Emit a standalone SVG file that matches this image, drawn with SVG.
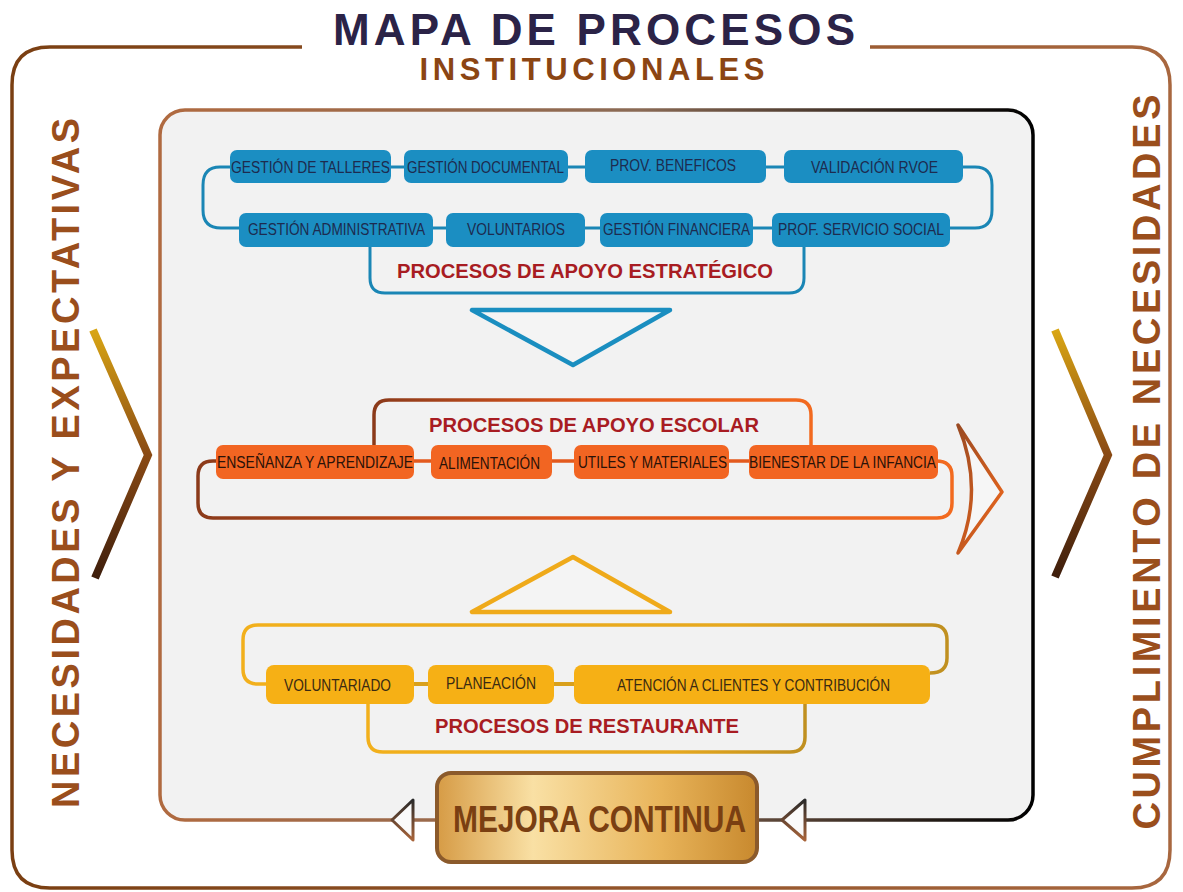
<svg xmlns="http://www.w3.org/2000/svg" width="1183" height="892" viewBox="0 0 1183 892">
<defs>
<linearGradient id="gOuter" x1="0" y1="0" x2="1" y2="0"><stop offset="0" stop-color="#7a3f12"/><stop offset="1" stop-color="#a8673f"/></linearGradient>
<linearGradient id="gInner" x1="0" y1="0" x2="1" y2="0"><stop offset="0" stop-color="#b06a40"/><stop offset="0.55" stop-color="#8a6a55"/><stop offset="1" stop-color="#000"/></linearGradient>
<linearGradient id="gChev" x1="0" y1="0" x2="0" y2="1"><stop offset="0" stop-color="#d9a614"/><stop offset="0.5" stop-color="#8a4a14"/><stop offset="1" stop-color="#3e1e0c"/></linearGradient>
<linearGradient id="gOrange" x1="0" y1="0" x2="1" y2="0"><stop offset="0" stop-color="#8b3a1a"/><stop offset="0.5" stop-color="#e0561c"/><stop offset="1" stop-color="#f26a1f"/></linearGradient>
<linearGradient id="gOChev" x1="0" y1="0" x2="1" y2="1"><stop offset="0" stop-color="#9a4a22"/><stop offset="1" stop-color="#f2691c"/></linearGradient>
<linearGradient id="gYellow" x1="0" y1="0" x2="1" y2="0"><stop offset="0" stop-color="#f2b01c"/><stop offset="0.7" stop-color="#e6a81e"/><stop offset="1" stop-color="#c09020"/></linearGradient>
<linearGradient id="gMejora" x1="0" y1="0" x2="1" y2="0"><stop offset="0" stop-color="#d69b45"/><stop offset="0.3" stop-color="#f9e0a4"/><stop offset="0.7" stop-color="#e8b45a"/><stop offset="1" stop-color="#c8892e"/></linearGradient>
<linearGradient id="gArrow" x1="0" y1="0" x2="0" y2="1"><stop offset="0" stop-color="#2a2a2a"/><stop offset="1" stop-color="#a8643a"/></linearGradient>
<style>
.lbl{font-family:"Liberation Sans",Arial,sans-serif;font-size:16px;}
.sec{font-family:"Liberation Sans",Arial,sans-serif;font-size:21px;font-weight:bold;fill:#a81c22;}
.blue{fill:#1b8ec2;}
.blueT{fill:#1d2b4f;}
.org{fill:#f26522;}
.orgT{fill:#2a1208;}
.yel{fill:#f6b015;}
.yelT{fill:#3a2a12;}
.side{font-family:"Liberation Sans",Arial,sans-serif;font-size:38px;font-weight:bold;fill:#9a4e1c;}
</style>
</defs>
<rect width="1183" height="892" fill="#fff"/>

<g id="frame">
<path d="M302,47 H50 Q12,47 12,85 V850 Q12,888 50,888 H1132 Q1170,888 1170,850 V85 Q1170,47 1132,47 H870" fill="none" stroke="url(#gOuter)" stroke-width="3.5"/>
<rect x="160" y="110" width="873" height="710" rx="25" fill="#f2f2f2" stroke="url(#gInner)" stroke-width="3.5"/>
</g>

<g id="title">
<text x="594" y="45" text-anchor="middle" font-family="'Liberation Sans',Arial,sans-serif" font-size="44" font-weight="bold" fill="#2b2347" textLength="522" lengthAdjust="spacing">MAPA DE PROCESOS</text>
<text x="592" y="80" text-anchor="middle" font-family="'Liberation Sans',Arial,sans-serif" font-size="31" font-weight="bold" fill="#8b4513" textLength="345" lengthAdjust="spacing">INSTITUCIONALES</text>
</g>

<g id="side-left">
<text class="side" transform="translate(79,463) rotate(-90)" text-anchor="middle" textLength="690" lengthAdjust="spacing">NECESIDADES Y EXPECTATIVAS</text>
<path d="M93,330 L148,455 L95,578" fill="none" stroke="url(#gChev)" stroke-width="8"/>
</g>
<g id="side-right">
<text class="side" transform="translate(1160,462) rotate(-90)" text-anchor="middle" textLength="735" lengthAdjust="spacing">CUMPLIMIENTO DE NECESIDADES</text>
<path d="M1055,330 L1108,455 L1055,577" fill="none" stroke="url(#gChev)" stroke-width="8"/>
</g>

<g id="connectors" fill="none" stroke-linejoin="round">
<g stroke="#1a86b5" stroke-width="3">
<path d="M232,167 H220 Q203,167 203,185 V210 Q203,228 221,228 H240"/>
<path d="M962,167 H975 Q992,167 992,185 V210 Q992,228 975,228 H948"/>
<path d="M391,167 H404 M568,167 H585 M766,167 H784 M433,228 H446 M585,228 H600 M753,228 H772"/>
<path d="M370,247 V278 Q370,293 385,293 H789 Q804,293 804,278 V247"/>
</g>
<path d="M472,310 L670,310 L573,365 Z" stroke="#1a8ec0" stroke-width="4.5" fill="#f4f4f4"/>
<path d="M374,445 V415 Q374,400 389,400 H796 Q811,400 811,415 V445" stroke="url(#gOrange)" stroke-width="3.5"/>
<path d="M218,461 H213 Q198,461 198,476 V503 Q198,518 213,518 H937 Q952,518 952,503 V476 Q952,461 936,461" stroke="url(#gOrange)" stroke-width="3.5"/>
<path d="M414,461 H431 M552,461 H574 M729,461 H749" stroke="#e35a1e" stroke-width="3.5"/>
<path d="M958,425 L1002,492 L958,553 Q985,490 958,425 Z" stroke="url(#gOChev)" stroke-width="3.5" fill="#f6f6f6"/>
<path d="M472,612 L670,612 L573,557 Z" stroke="#efaa1a" stroke-width="4.5" fill="#f4f4f4"/>
<path d="M268,684 H258 Q243,684 243,669 V640 Q243,625 258,625 H932 Q947,625 947,640 V658 Q947,673 930,673" stroke="url(#gYellow)" stroke-width="3.5"/>
<path d="M414,684 H428 M554,684 H574" stroke="#d9a01c" stroke-width="4"/>
<path d="M368,704 V737 Q368,752 383,752 H790 Q805,752 805,737 V704" stroke="url(#gYellow)" stroke-width="3.5"/>
<path d="M392,820 L413,800 L413,840 Z" stroke="url(#gArrow)" stroke-width="3" fill="#fafafa"/>
<path d="M782,820 L805,800 L805,840 Z" stroke="url(#gArrow)" stroke-width="3" fill="#fafafa"/>
</g>

<g id="n-talleres"><rect class="blue" x="230" y="150" width="161" height="33" rx="7"/><text class="lbl blueT" x="231" y="173" textLength="159" lengthAdjust="spacingAndGlyphs">GESTIÓN DE TALLERES</text></g>
<g id="n-documental"><rect class="blue" x="404" y="150" width="164" height="33" rx="7"/><text class="lbl blueT" x="407" y="173" textLength="157" lengthAdjust="spacingAndGlyphs">GESTIÓN DOCUMENTAL</text></g>
<g id="n-beneficos"><rect class="blue" x="585" y="150" width="181" height="33" rx="7"/><text class="lbl blueT" x="610" y="171" textLength="126" lengthAdjust="spacingAndGlyphs">PROV. BENEFICOS</text></g>
<g id="n-rvoe"><rect class="blue" x="784" y="150" width="179" height="33" rx="7"/><text class="lbl blueT" x="811" y="173" textLength="127" lengthAdjust="spacingAndGlyphs">VALIDACIÓN RVOE</text></g>
<g id="n-administrativa"><rect class="blue" x="239" y="213" width="194" height="34" rx="7"/><text class="lbl blueT" x="248" y="235" textLength="177" lengthAdjust="spacingAndGlyphs">GESTIÓN ADMINISTRATIVA</text></g>
<g id="n-voluntarios"><rect class="blue" x="446" y="213" width="139" height="34" rx="7"/><text class="lbl blueT" x="467" y="235" textLength="98" lengthAdjust="spacingAndGlyphs">VOLUNTARIOS</text></g>
<g id="n-financiera"><rect class="blue" x="600" y="213" width="153" height="34" rx="7"/><text class="lbl blueT" x="603" y="235" textLength="147" lengthAdjust="spacingAndGlyphs">GESTIÓN FINANCIERA</text></g>
<g id="n-servicio"><rect class="blue" x="772" y="213" width="178" height="34" rx="7"/><text class="lbl blueT" x="778" y="235" textLength="166" lengthAdjust="spacingAndGlyphs">PROF. SERVICIO SOCIAL</text></g>
<g id="s-estrategico"><text class="sec" x="397" y="278" textLength="376" lengthAdjust="spacingAndGlyphs">PROCESOS DE APOYO ESTRATÉGICO</text></g>

<g id="s-escolar"><text class="sec" x="429" y="432" textLength="330" lengthAdjust="spacingAndGlyphs">PROCESOS DE APOYO ESCOLAR</text></g>
<g id="n-ensenanza"><rect class="org" x="216" y="445" width="198" height="34" rx="7"/><text class="lbl orgT" x="217" y="468" textLength="196" lengthAdjust="spacingAndGlyphs">ENSEÑANZA Y APRENDIZAJE</text></g>
<g id="n-alimentacion"><rect class="org" x="431" y="445" width="121" height="34" rx="7"/><text class="lbl orgT" x="439" y="469" textLength="101" lengthAdjust="spacingAndGlyphs">ALIMENTACIÓN</text></g>
<g id="n-utiles"><rect class="org" x="574" y="445" width="155" height="34" rx="7"/><text class="lbl orgT" x="578" y="468" textLength="149" lengthAdjust="spacingAndGlyphs">UTILES Y MATERIALES</text></g>
<g id="n-bienestar"><rect class="org" x="749" y="445" width="189" height="34" rx="7"/><text class="lbl orgT" x="749" y="468" textLength="187" lengthAdjust="spacingAndGlyphs">BIENESTAR DE LA INFANCIA</text></g>

<g id="n-voluntariado"><rect class="yel" x="266" y="665" width="148" height="39" rx="8"/><text class="lbl yelT" x="284" y="691" textLength="107" lengthAdjust="spacingAndGlyphs">VOLUNTARIADO</text></g>
<g id="n-planeacion"><rect class="yel" x="428" y="665" width="126" height="39" rx="8"/><text class="lbl yelT" x="446" y="689" textLength="90" lengthAdjust="spacingAndGlyphs">PLANEACIÓN</text></g>
<g id="n-atencion"><rect class="yel" x="574" y="665" width="356" height="39" rx="8"/><text class="lbl yelT" x="617" y="691" textLength="273" lengthAdjust="spacingAndGlyphs">ATENCIÓN A CLIENTES Y CONTRIBUCIÓN</text></g>
<g id="s-restaurante"><text class="sec" x="435" y="733" textLength="304" lengthAdjust="spacingAndGlyphs">PROCESOS DE RESTAURANTE</text></g>

<g id="n-mejora"><rect x="437" y="773" width="320" height="89" rx="14" fill="url(#gMejora)" stroke="#8b5a2b" stroke-width="4"/><text x="453" y="832" font-family="'Liberation Sans',Arial,sans-serif" font-size="37" font-weight="bold" fill="#7a3f12" textLength="293" lengthAdjust="spacingAndGlyphs">MEJORA CONTINUA</text></g>
</svg>
